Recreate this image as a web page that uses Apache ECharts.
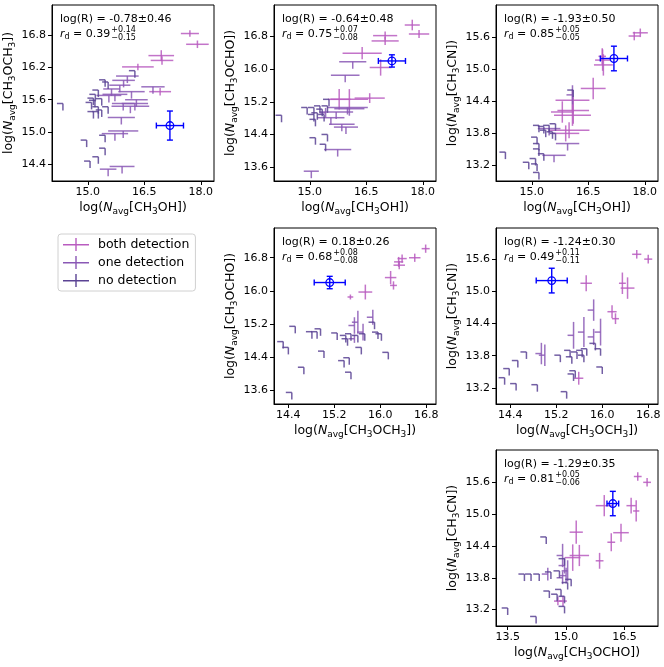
<!DOCTYPE html>
<html>
<head>
<meta charset="utf-8">
<script src="https://cdn.jsdelivr.net/npm/echarts@6/dist/echarts.min.js"></script>
<style>
  html, body { margin: 0; padding: 0; background: #fff; }
  #chart { width: 664px; height: 667px; }
</style>
</head>
<body>
<div id="chart"></div>
<script>
// molecules and the reference source (blue point)
const molecules = ['CH3OH', 'CH3OCH3', 'CH3OCHO', 'CH3CN']
const refValue = [17.18, 15.12, 16.20, 15.20]
const refError = [0.36, 0.27, 0.15, 0.23]

// each panel plots [x molecule, y molecule]
const pairs = [[0, 1], [0, 2], [0, 3], [1, 2], [1, 3], [2, 3]]

const logR = ['-0.78±0.46', '-0.64±0.48', '-1.93±0.50', '0.18±0.26', '-1.24±0.30', '-1.29±0.35']
const rdValue = ['0.39', '0.75', '0.85', '0.68', '0.49', '0.81']
const rdUpper = ['+0.14', '+0.07', '+0.05', '+0.08', '+0.11', '+0.05']
const rdLower = ['\u22120.15', '\u22120.08', '\u22120.05', '\u22120.08', '\u22120.11', '\u22120.06']

const xTicks = [
  [15.0, 16.5, 18.0], [15.0, 16.5, 18.0], [15.0, 16.5, 18.0],
  [14.4, 15.2, 16.0, 16.8], [14.4, 15.2, 16.0, 16.8], [13.5, 15.0, 16.5]
]
const yTicks = [
  [14.4, 15.0, 15.6, 16.2, 16.8], [13.6, 14.4, 15.2, 16.0, 16.8], [13.2, 13.8, 14.4, 15.0, 15.6],
  [13.6, 14.4, 15.2, 16.0, 16.8], [13.2, 13.8, 14.4, 15.0, 15.6], [13.2, 13.8, 14.4, 15.0, 15.6]
]
const xRange = [[14.05, 18.35], [14.05, 18.35], [14.05, 18.35], [14.15, 16.97], [14.15, 16.97], [13.2, 17.36]]
const yRange = [[14.09, 17.36], [13.26, 17.57], [12.91, 16.2], [13.26, 17.52], [12.9, 16.18], [12.89, 16.21]]

// points: [x, y, xerr, yerr, kind]
// kind 0: errors on both, 1: x detected / y upper limit, 2: y detected / x upper limit, 3: both upper limits
const bothDet = [
  [[17.71, 16.83, 0.24, 0.06, 0], [17.91, 16.63, 0.30, 0.07, 0], [16.95, 16.42, 0.34, 0.10, 0],
   [16.97, 16.33, 0.30, 0.08, 0], [16.33, 16.21, 0.42, 0.06, 0], [16.92, 15.75, 0.29, 0.07, 0]],
  [[17.72, 17.08, 0.20, 0.13, 0], [17.90, 16.86, 0.27, 0.10, 0], [17.00, 16.82, 0.32, 0.10, 0],
   [17.00, 16.69, 0.36, 0.10, 0], [16.39, 16.39, 0.52, 0.15, 0], [16.88, 16.04, 0.29, 0.20, 0],
   [16.59, 15.29, 0.40, 0.12, 0], [15.78, 15.26, 0.30, 0.25, 0], [16.05, 15.26, 0.50, 0.25, 0]],
  [[17.72, 15.62, 0.15, 0.08, 0], [17.88, 15.68, 0.20, 0.08, 0], [16.88, 15.17, 0.20, 0.20, 0],
   [16.90, 15.08, 0.25, 0.20, 0], [16.87, 15.24, 0.10, 0.15, 0], [16.63, 14.64, 0.33, 0.20, 0],
   [16.08, 14.42, 0.45, 0.20, 0], [16.10, 14.23, 0.42, 0.25, 0], [15.81, 14.20, 0.30, 0.20, 0],
   [16.08, 14.14, 0.49, 0.20, 0], [15.99, 13.86, 0.54, 0.15, 0], [15.90, 13.80, 0.36, 0.15, 0]],
  [[16.79, 17.02, 0.07, 0.10, 0], [16.60, 16.80, 0.10, 0.10, 0], [16.38, 16.78, 0.08, 0.10, 0],
   [16.32, 16.70, 0.08, 0.12, 0], [16.33, 16.62, 0.10, 0.10, 0], [16.18, 16.32, 0.10, 0.16, 0],
   [16.23, 16.13, 0.06, 0.10, 0], [15.74, 15.97, 0.12, 0.18, 0], [15.48, 15.85, 0.05, 0.06, 0]],
  [[16.60, 15.69, 0.08, 0.08, 0], [16.80, 15.60, 0.07, 0.08, 0], [15.72, 15.15, 0.10, 0.15, 0],
   [16.35, 15.15, 0.06, 0.20, 0], [16.44, 15.06, 0.12, 0.20, 0], [16.17, 14.62, 0.08, 0.12, 0],
   [16.23, 14.49, 0.06, 0.10, 0], [15.59, 13.38, 0.08, 0.12, 0]],
  [[16.84, 15.71, 0.10, 0.08, 0], [17.08, 15.60, 0.10, 0.08, 0], [15.98, 15.16, 0.22, 0.20, 0],
   [16.67, 15.16, 0.12, 0.15, 0], [16.80, 15.06, 0.08, 0.20, 0], [15.26, 14.66, 0.17, 0.22, 0],
   [16.41, 14.65, 0.20, 0.17, 0], [16.16, 14.47, 0.10, 0.17, 0], [15.86, 14.12, 0.10, 0.15, 0],
   [15.34, 14.22, 0.25, 0.20, 0], [15.17, 14.18, 0.20, 0.25, 0], [14.79, 13.36, 0.10, 0.08, 0],
   [14.92, 13.36, 0.10, 0.10, 0]]
]

const oneDet = [
  [[16.73, 15.84, 0.31, 0, 1], [16.05, 16.04, 0.30, 0, 1], [15.95, 15.96, 0.30, 0, 1],
   [15.85, 15.87, 0.28, 0, 1], [16.16, 15.75, 0.35, 0, 1], [15.72, 15.70, 0.33, 0, 1],
   [15.56, 15.68, 0.33, 0, 1], [16.29, 15.60, 0.30, 0, 1], [16.25, 15.53, 0.35, 0, 1],
   [15.94, 15.53, 0.30, 0, 1], [16.13, 15.48, 0.50, 0, 1], [15.89, 15.27, 0.36, 0, 1],
   [15.94, 15.02, 0.40, 0, 1], [15.72, 14.97, 0.35, 0, 1], [15.91, 14.36, 0.33, 0, 1],
   [15.54, 14.31, 0.22, 0, 1], [15.63, 15.80, 0.22, 0, 1]],
  [[16.14, 16.18, 0.36, 0, 1], [15.94, 15.85, 0.38, 0, 1], [16.00, 15.06, 0.54, 0, 1],
   [16.05, 15.03, 0.40, 0, 1], [15.56, 14.81, 0.36, 0, 1], [15.85, 14.65, 0.34, 0, 1],
   [15.96, 14.58, 0.32, 0, 1], [15.74, 14.03, 0.36, 0, 1], [15.04, 13.50, 0.20, 0, 1],
   [15.42, 14.93, 0, 0.12, 2], [15.70, 14.95, 0.45, 0, 1]],
  [[16.08, 14.52, 0, 0.18, 2], [15.95, 13.61, 0.31, 0, 1], [15.59, 13.39, 0.31, 0, 1],
   [15.46, 13.89, 0.30, 0, 1]],
  [[15.61, 15.24, 0, 0.28, 2], [15.87, 15.36, 0, 0.18, 2], [15.55, 15.16, 0, 0.20, 2],
   [15.70, 15.00, 0, 0.20, 2], [15.55, 14.84, 0, 0.10, 2]],
  [[15.85, 14.65, 0, 0.20, 2], [15.97, 14.24, 0, 0.25, 2], [15.68, 14.24, 0, 0.28, 2],
   [15.50, 14.18, 0, 0.25, 2], [15.85, 14.15, 0, 0.15, 2], [15.00, 13.81, 0, 0.20, 2],
   [14.94, 13.84, 0, 0.20, 2]],
  [[14.91, 14.22, 0, 0.22, 2], [15.04, 13.93, 0, 0.20, 2], [14.96, 14.03, 0, 0.15, 2],
   [15.00, 13.84, 0, 0.15, 2], [14.53, 13.87, 0, 0.12, 2], [14.91, 13.80, 0, 0.12, 2]]
]

const noDet = [
  [[14.34, 15.53, 0, 0, 3], [14.97, 14.85, 0, 0, 3], [15.06, 14.46, 0, 0, 3], [15.28, 14.54, 0, 0, 3],
   [15.46, 14.94, 0, 0, 3], [15.46, 14.70, 0, 0, 3], [15.19, 15.59, 0, 0, 3], [15.28, 15.47, 0, 0, 3],
   [15.28, 15.38, 0, 0, 3], [15.15, 15.63, 0, 0, 3], [15.37, 15.62, 0, 0, 3], [15.54, 15.47, 0, 0, 3],
   [15.46, 15.97, 0, 0, 3], [15.54, 15.93, 0, 0, 3], [15.37, 15.41, 0, 0, 3], [15.15, 15.38, 0, 0, 3],
   [15.28, 15.78, 0, 0, 3], [16.25, 16.14, 0, 0, 3], [15.20, 15.70, 0, 0, 3], [15.10, 15.55, 0, 0, 3]],
  [[14.25, 14.87, 0, 0, 3], [15.11, 15.06, 0, 0, 3], [14.93, 15.06, 0, 0, 3], [15.15, 14.77, 0, 0, 3],
   [15.51, 15.26, 0, 0, 3], [15.27, 15.10, 0, 0, 3], [15.38, 14.89, 0, 0, 3], [15.20, 14.93, 0, 0, 3],
   [15.47, 15.10, 0, 0, 3], [15.15, 14.32, 0, 0, 3], [15.47, 14.40, 0, 0, 3], [15.42, 14.16, 0, 0, 3],
   [15.33, 15.02, 0, 0, 3], [15.11, 14.89, 0, 0, 3]],
  [[16.10, 14.61, 0, 0, 3], [15.63, 13.98, 0, 0, 3], [15.46, 13.95, 0, 0, 3], [15.32, 13.93, 0, 0, 3],
   [15.19, 13.95, 0, 0, 3], [15.37, 13.86, 0, 0, 3], [15.55, 13.83, 0, 0, 3], [15.14, 13.73, 0, 0, 3],
   [15.19, 13.61, 0, 0, 3], [15.19, 13.51, 0, 0, 3], [15.32, 13.42, 0, 0, 3], [15.10, 13.33, 0, 0, 3],
   [14.92, 13.26, 0, 0, 3], [15.14, 13.23, 0, 0, 3], [15.19, 13.07, 0, 0, 3], [14.30, 13.45, 0, 0, 3],
   [15.63, 13.80, 0, 0, 3]],
  [[15.90, 15.24, 0, 0, 3], [15.49, 14.96, 0, 0, 3], [15.61, 14.92, 0, 0, 3], [15.73, 14.96, 0, 0, 3],
   [15.96, 15.00, 0, 0, 3], [16.02, 14.96, 0, 0, 3], [15.25, 14.98, 0, 0, 3], [14.90, 15.01, 0, 0, 3],
   [14.81, 15.01, 0, 0, 3], [14.96, 15.08, 0, 0, 3], [14.52, 15.14, 0, 0, 3], [14.31, 14.77, 0, 0, 3],
   [14.40, 14.63, 0, 0, 3], [15.02, 14.54, 0, 0, 3], [15.37, 14.31, 0, 0, 3], [15.46, 14.38, 0, 0, 3],
   [15.49, 14.03, 0, 0, 3], [14.67, 14.15, 0, 0, 3], [14.46, 13.54, 0, 0, 3], [16.14, 14.51, 0, 0, 3],
   [15.67, 14.63, 0, 0, 3], [15.40, 14.92, 0, 0, 3], [15.43, 14.84, 0, 0, 3]],
  [[14.68, 13.87, 0, 0, 3], [14.53, 13.71, 0, 0, 3], [14.38, 13.56, 0, 0, 3], [14.30, 13.39, 0, 0, 3],
   [14.50, 13.28, 0, 0, 3], [14.87, 13.26, 0, 0, 3], [15.27, 13.81, 0, 0, 3], [15.44, 13.90, 0, 0, 3],
   [15.56, 13.87, 0, 0, 3], [15.65, 13.90, 0, 0, 3], [15.73, 13.93, 0, 0, 3], [15.97, 13.93, 0, 0, 3],
   [15.88, 14.03, 0, 0, 3], [15.50, 13.46, 0, 0, 3], [15.38, 13.13, 0, 0, 3], [16.00, 13.59, 0, 0, 3],
   [15.47, 13.78, 0, 0, 3], [15.68, 13.81, 0, 0, 3], [15.53, 13.52, 0, 0, 3]],
  [[14.49, 14.57, 0, 0, 3], [14.31, 13.87, 0, 0, 3], [14.10, 13.87, 0, 0, 3], [13.93, 13.87, 0, 0, 3],
   [14.61, 13.91, 0, 0, 3], [14.83, 13.93, 0, 0, 3], [14.57, 13.55, 0, 0, 3], [14.77, 13.49, 0, 0, 3],
   [14.87, 13.58, 0, 0, 3], [14.96, 13.45, 0, 0, 3], [14.96, 13.26, 0, 0, 3], [13.50, 13.23, 0, 0, 3],
   [14.23, 13.07, 0, 0, 3], [15.13, 13.77, 0, 0, 3], [15.04, 13.71, 0, 0, 3], [14.96, 14.16, 0, 0, 3]]
]

const groupNames = ['both detection', 'one detection', 'no detection']
const groupColors = ['#b95cc0', '#8a58b5', '#5b4394']

const FONT = 'DejaVu Sans'
const gridLeft = [52, 274, 496, 274, 496, 496]
const gridTop = [5, 5, 5, 228, 228, 450]
const GW = 162
const GH = 176
const LIM_X = 6 // px length of an upper-limit stroke
const LIM_Y = 7

function molLabel (m) {
  return 'log({i|N}{s|avg}[' + m.replace(/(\d)/g, '{s|$1}') + '])'
}
const nameStyle = {
  fontSize: 12.5,
  fontFamily: FONT,
  color: '#000',
  lineHeight: 17,
  rich: {
    i: { fontStyle: 'italic', fontSize: 12.5, fontFamily: FONT, lineHeight: 17, color: '#000' },
    s: { fontSize: 9, fontFamily: FONT, lineHeight: 9, verticalAlign: 'bottom', color: '#000' }
  }
}

function renderErr (params, api) {
  const x = api.value(0)
  const y = api.value(1)
  const ex = api.value(2)
  const ey = api.value(3)
  const k = api.value(4)
  const c = api.coord([x, y])
  const style = { stroke: api.visual('color'), lineWidth: 1.5, opacity: 0.85 }
  const kids = []
  const seg = (a, b) => kids.push({ type: 'line', shape: { x1: a[0], y1: a[1], x2: b[0], y2: b[1] }, style })
  if (k === 0 || k === 1) seg(api.coord([x - ex, y]), api.coord([x + ex, y]))
  else seg(c, [c[0] - LIM_X, c[1]])
  if (k === 0 || k === 2) seg(api.coord([x, y - ey]), api.coord([x, y + ey]))
  else seg(c, [c[0], c[1] + LIM_Y])
  return { type: 'group', children: kids }
}

function renderRef (params, api) {
  const x = api.value(0)
  const y = api.value(1)
  const ex = api.value(2)
  const ey = api.value(3)
  const c = api.coord([x, y])
  const l = api.coord([x - ex, y])
  const r = api.coord([x + ex, y])
  const b = api.coord([x, y - ey])
  const t = api.coord([x, y + ey])
  const style = { stroke: '#0000ff', lineWidth: 1.4 }
  const line = (x1, y1, x2, y2) => ({ type: 'line', shape: { x1, y1, x2, y2 }, style })
  return {
    type: 'group',
    children: [
      line(l[0], l[1], r[0], r[1]),
      line(b[0], b[1], t[0], t[1]),
      line(l[0], l[1] - 3, l[0], l[1] + 3),
      line(r[0], r[1] - 3, r[0], r[1] + 3),
      line(b[0] - 3, b[1], b[0] + 3, b[1]),
      line(t[0] - 3, t[1], t[0] + 3, t[1]),
      { type: 'circle', shape: { cx: c[0], cy: c[1], r: 3.8 }, style: { fill: 'none', stroke: '#0000ff', lineWidth: 1.3 } }
    ]
  }
}

const series = []
pairs.forEach((pr, p) => {
  [bothDet, oneDet, noDet].forEach((g, ci) => {
    series.push({
      type: 'custom',
      name: groupNames[ci],
      xAxisIndex: p,
      yAxisIndex: p,
      encode: { x: 0, y: 1 },
      itemStyle: { color: groupColors[ci] },
      renderItem: renderErr,
      data: g[p]
    })
  })
  series.push({
    type: 'custom',
    name: 'reference',
    xAxisIndex: p,
    yAxisIndex: p,
    encode: { x: 0, y: 1 },
    z: 10,
    renderItem: renderRef,
    data: [[refValue[pr[0]], refValue[pr[1]], refError[pr[0]], refError[pr[1]]]]
  })
})

// annotation texts
const ctx = document.createElement('canvas').getContext('2d')
function textWidth (s, size, italic) {
  ctx.font = (italic ? 'italic ' : '') + size + 'px "' + FONT + '"'
  return ctx.measureText(s).width
}
const graphic = []
pairs.forEach((pr, p) => {
  const x0 = gridLeft[p] + 8
  const t = gridTop[p]
  graphic.push({
    type: 'text', x: x0, y: t + 14, z: 20,
    style: { text: 'log(R) = ' + logR[p], fontSize: 11, fontFamily: FONT, fill: '#000', verticalAlign: 'middle' }
  })
  graphic.push({
    type: 'text', x: x0, y: t + 29, z: 20,
    style: {
      text: '{i|r}{s|d} = ' + rdValue[p],
      fontSize: 11,
      fontFamily: FONT,
      fill: '#000',
      lineHeight: 14,
      verticalAlign: 'middle',
      rich: {
        i: { fontStyle: 'italic', fontSize: 11, fontFamily: FONT, lineHeight: 14, fill: '#000' },
        s: { fontSize: 8, fontFamily: FONT, lineHeight: 8, verticalAlign: 'bottom', fill: '#000' }
      }
    }
  })
  const w = textWidth('r', 11, true) + textWidth('d', 8) + textWidth(' = ' + rdValue[p], 11)
  graphic.push({
    type: 'text', x: x0 + w + 1, y: t + 25, z: 20,
    style: { text: rdUpper[p], fontSize: 8, fontFamily: FONT, fill: '#000', verticalAlign: 'middle' }
  })
  graphic.push({
    type: 'text', x: x0 + w + 1, y: t + 33, z: 20,
    style: { text: rdLower[p], fontSize: 8, fontFamily: FONT, fill: '#000', verticalAlign: 'middle' }
  })
})

const option = {
  animation: false,
  backgroundColor: '#fff',
  textStyle: { fontFamily: FONT },
  legend: {
    left: 58,
    top: 234,
    orient: 'vertical',
    data: groupNames,
    icon: 'path://M0,6L26,6L26,7.4L0,7.4ZM12.3,0L13.7,0L13.7,13L12.3,13Z',
    itemWidth: 26,
    itemHeight: 13,
    itemGap: 5,
    padding: [4, 6, 4, 5],
    borderColor: '#d0d0d0',
    borderWidth: 1,
    borderRadius: 3,
    selectedMode: false,
    textStyle: { fontSize: 12.5, fontFamily: FONT, color: '#000', padding: [0, 0, 0, 4] }
  },
  grid: gridLeft.map((l, i) => ({
    left: l,
    top: gridTop[i],
    width: GW,
    height: GH,
    show: true,
    borderColor: '#000',
    borderWidth: 1,
    backgroundColor: 'transparent',
    outerBoundsMode: 'none'
  })),
  xAxis: pairs.map((pr, i) => ({
    type: 'value',
    gridIndex: i,
    min: xRange[i][0],
    max: xRange[i][1],
    name: molLabel(molecules[pr[0]]),
    nameLocation: 'middle',
    nameGap: 11,
    nameTextStyle: nameStyle,
    axisLine: { show: true, onZero: false, lineStyle: { color: '#000', width: 1 } },
    axisTick: { show: true, length: 4, customValues: xTicks[i], lineStyle: { color: '#000' } },
    axisLabel: { customValues: xTicks[i], formatter: v => v.toFixed(1), fontSize: 11, color: '#000', margin: 6, fontFamily: FONT },
    splitLine: { show: false }
  })),
  yAxis: pairs.map((pr, i) => ({
    type: 'value',
    gridIndex: i,
    min: yRange[i][0],
    max: yRange[i][1],
    name: molLabel(molecules[pr[1]]),
    nameLocation: 'middle',
    nameRotate: 90,
    nameGap: 29,
    nameTextStyle: nameStyle,
    axisLine: { show: true, onZero: false, lineStyle: { color: '#000', width: 1 } },
    axisTick: { show: true, length: 4, customValues: yTicks[i], lineStyle: { color: '#000' } },
    axisLabel: { customValues: yTicks[i], formatter: v => v.toFixed(1), fontSize: 11, color: '#000', margin: 6, fontFamily: FONT },
    splitLine: { show: false }
  })),
  graphic,
  series
}

const chart = echarts.init(document.getElementById('chart'))
chart.setOption(option)
</script>
</body>
</html>
